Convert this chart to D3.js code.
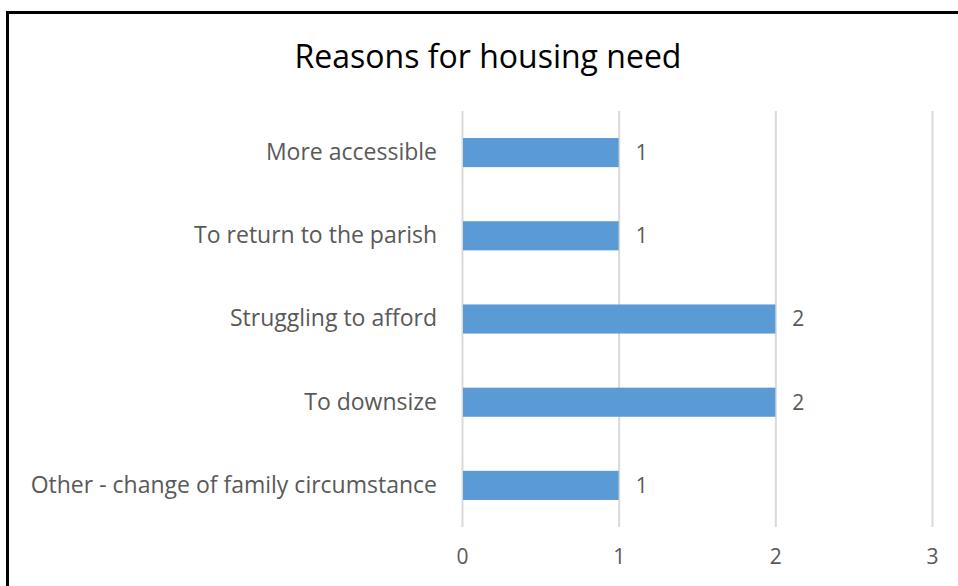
<!DOCTYPE html>
<html>
<head>
<meta charset="utf-8">
<script src="https://cdn.jsdelivr.net/npm/d3@7"></script>
<style>
  body { margin: 0; background: #fff; }
  svg { display: block; }
  svg text { font-family: "Open Sans", "Noto Sans", sans-serif; }
</style>
</head>
<body>
<svg width="958" height="586"></svg>
<script>
var categories = ["More accessible", "To return to the parish", "Struggling to afford", "To downsize", "Other - change of family circumstance"];
var counts = [1, 1, 2, 2, 1];
var xTicks = [0, 1, 2, 3];
var title = "Reasons for housing need";

var svg = d3.select("svg"),
    margin = {top: 111, right: 26, bottom: 59, left: 462},
    width = +svg.attr("width") - margin.left - margin.right,
    height = +svg.attr("height") - margin.top - margin.bottom;

// chart frame (cut off at right / bottom like the screenshot)
svg.append("rect")
    .attr("x", 7.5).attr("y", 12.5)
    .attr("width", 1000).attr("height", 1000)
    .attr("fill", "none")
    .attr("stroke", "#000")
    .attr("stroke-width", 3);

svg.append("text")
    .attr("x", 488)
    .attr("y", 68)
    .attr("text-anchor", "middle")
    .attr("font-size", 32)
    .attr("fill", "#000")
    .text(title);

var g = svg.append("g").attr("transform", "translate(" + margin.left + "," + margin.top + ")");

var x = d3.scaleLinear().domain([0, 3]).range([0, width]);
var y = d3.scaleBand().domain(categories).range([0, height]).paddingInner(0.65).paddingOuter(0.325);

var xAxis = d3.axisBottom(x).tickValues(xTicks).tickFormat(d3.format("d")).tickSize(height).tickPadding(22);

g.append("g")
    .attr("class", "x axis")
    .call(xAxis)
    .call(function (s) {
      s.select(".domain").remove();
      s.selectAll(".tick line").attr("stroke", "#d9d9d9").attr("stroke-width", 2);
      s.selectAll(".tick text").attr("fill", "#595959").attr("font-size", 21);
    });

g.append("g")
    .attr("class", "y axis")
    .call(d3.axisLeft(y).tickSize(0).tickPadding(25))
    .call(function (s) {
      s.select(".domain").remove();
      s.selectAll(".tick text").attr("fill", "#595959").attr("font-size", 23);
    });

var rows = categories.map(function (c, i) { return {cat: c, val: counts[i]}; });

g.selectAll(".bar")
    .data(rows)
  .enter().append("rect")
    .attr("class", "bar")
    .attr("x", x(0) + 1)
    .attr("y", function (d) { return y(d.cat); })
    .attr("width", function (d) { return x(d.val) - x(0) - 1; })
    .attr("height", y.bandwidth())
    .attr("fill", "#5b9bd5");

g.selectAll(".val")
    .data(rows)
  .enter().append("text")
    .attr("class", "val")
    .attr("x", function (d) { return x(d.val) + 17; })
    .attr("y", function (d) { return y(d.cat) + y.bandwidth() / 2; })
    .attr("dy", "0.35em")
    .attr("fill", "#595959")
    .attr("font-size", 21)
    .text(function (d) { return d.val; });
</script>
</body>
</html>
